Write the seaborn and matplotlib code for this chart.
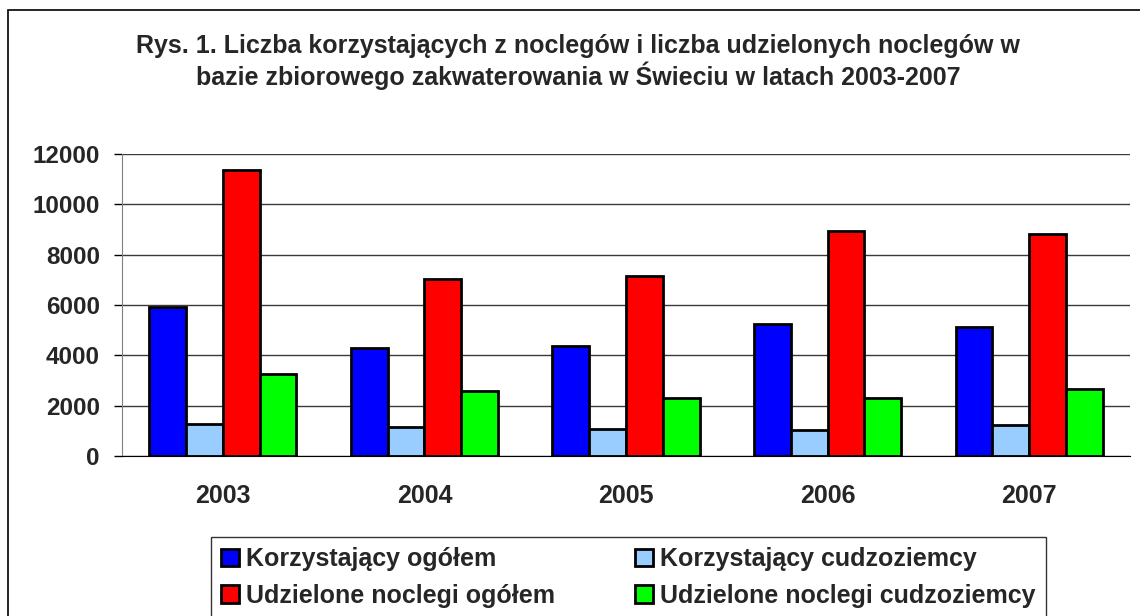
import matplotlib
matplotlib.use('Agg')
import matplotlib.pyplot as plt
import matplotlib.patches as patches
import pandas as pd
import seaborn as sns

# dane
lata = ['2003', '2004', '2005', '2006', '2007']
korzystajacy_ogolem = [5930, 4300, 4370, 5250, 5110]
korzystajacy_cudzoziemcy = [1270, 1170, 1060, 1020, 1250]
noclegi_ogolem = [11370, 7020, 7170, 8940, 8830]
noclegi_cudzoziemcy = [3240, 2570, 2310, 2310, 2670]

serie = ['Korzystający ogółem', 'Korzystający cudzoziemcy',
         'Udzielone noclegi ogółem', 'Udzielone noclegi cudzoziemcy']
kolory = ['#0000ff', '#99ccff', '#ff0000', '#00ff00']
y_ticks = [0, 2000, 4000, 6000, 8000, 10000, 12000]

tytul = ('Rys. 1. Liczba korzystających z noclegów i liczba udzielonych noclegów w\n'
         'bazie zbiorowego zakwaterowania w Świeciu w latach 2003-2007')


def zbuduj_tabele():
    wartosci = [korzystajacy_ogolem, korzystajacy_cudzoziemcy, noclegi_ogolem, noclegi_cudzoziemcy]
    wiersze = []
    for nazwa, seria in zip(serie, wartosci):
        for rok, v in zip(lata, seria):
            wiersze.append({'rok': rok, 'seria': nazwa, 'wartosc': v})
    return pd.DataFrame(wiersze)


def rysuj(df):
    sns.set_style('white')
    plt.rcParams['font.family'] = ['Liberation Sans', 'DejaVu Sans']
    plt.rcParams['font.weight'] = 'bold'

    fig = plt.figure(figsize=(11.4, 6.16), dpi=100)
    ax = fig.add_axes([122 / 1140, 1 - 456 / 616, (1130 - 122) / 1140, (456 - 154) / 616])

    sns.barplot(data=df, x='rok', y='wartosc', hue='seria', order=lata, hue_order=serie,
                palette=kolory, saturation=1, width=0.73, errorbar=None,
                edgecolor='black', linewidth=2.0, ax=ax)

    ax.set_xlim(-0.5, len(lata) - 0.5)
    ax.set_ylim(0, 12000)
    ax.set_yticks(y_ticks)
    ax.set_yticklabels([str(t) for t in y_ticks], fontsize=17.5, fontweight='bold')
    ax.set_xticklabels(lata, fontsize=18, fontweight='bold')
    ax.set_xticks([i - 0.5 for i in range(len(lata) + 1)], minor=True)
    ax.tick_params(axis='x', which='major', length=0, pad=20)
    ax.tick_params(axis='x', which='minor', length=6, width=1, color='black', direction='out')
    ax.tick_params(axis='y', length=6, width=1, color='black', direction='out', pad=10, left=True)
    ax.set_xlabel('')
    ax.set_ylabel('')
    ax.yaxis.grid(True, color='#3a3a3a', linewidth=1)
    ax.set_axisbelow(True)
    for s in ['top', 'right']:
        ax.spines[s].set_visible(False)
    ax.spines['left'].set_color('#808080')
    ax.spines['bottom'].set_color('black')

    h, l = ax.get_legend_handles_labels()
    ax.get_legend().remove()
    kolejnosc = [0, 2, 1, 3]
    leg = fig.legend([h[i] for i in kolejnosc], [l[i] for i in kolejnosc],
                     loc='upper left', bbox_to_anchor=(211 / 1140, 1 - 537 / 616),
                     ncol=2, frameon=True, fancybox=False, edgecolor='black',
                     prop={'size': 18, 'weight': 'bold'},
                     handlelength=0.7, handleheight=0.7, handletextpad=0.3,
                     columnspacing=3.2, labelspacing=0.5, borderpad=0.4, borderaxespad=0)
    leg.get_frame().set_linewidth(1)

    fig.text(578 / 1140, 1 - 62 / 616, tytul, ha='center', va='center', fontsize=18,
             fontweight='bold', linespacing=1.15)

    # ramka wykresu - prawa i dolna krawedz poza obrazkiem
    ramka = patches.Rectangle((8 / 1140, -0.05), 1.05, 1 - 10 / 616 + 0.05,
                              transform=fig.transFigure, fill=False, edgecolor='black',
                              linewidth=1.2)
    fig.patches.append(ramka)

    fig.savefig('out.png', dpi=100)


if __name__ == '__main__':
    rysuj(zbuduj_tabele())
